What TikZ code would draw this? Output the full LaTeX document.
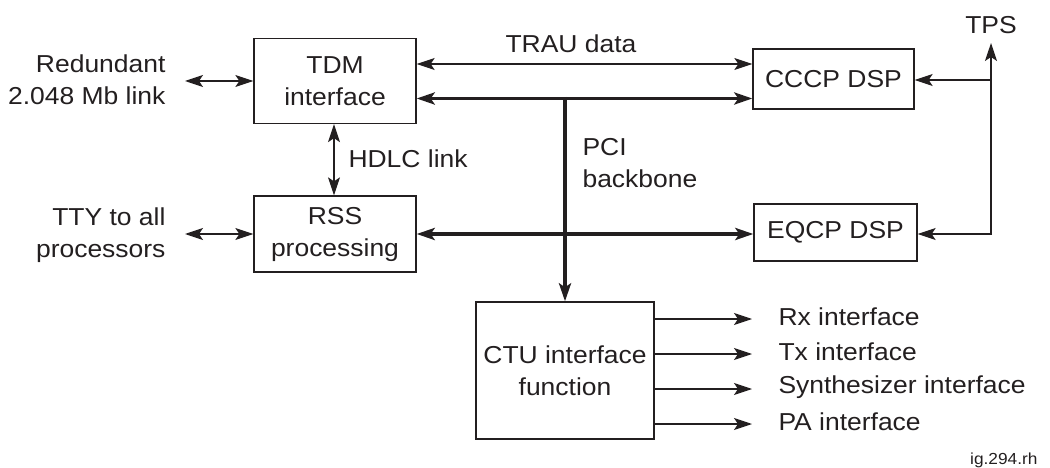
\documentclass[tikz,border=0pt]{standalone}
\usepackage{fontspec}
\setmainfont{Liberation Sans}[FakeStretch=1.08]
\usetikzlibrary{arrows.meta}
\definecolor{ink}{RGB}{35,31,32}
\begin{document}
\begin{tikzpicture}[x=1pt,y=-1pt,
  every node/.style={font=\fontsize{24.5}{32}\selectfont, text=ink},
  box/.style={draw=ink, line width=1.3pt, align=center, inner sep=0pt},
  conn/.style={draw=ink, line width=1.2pt},
  bus/.style={draw=ink, line width=3.6pt},
  >={Stealth[length=18pt,width=12pt,inset=4pt]}
]
\useasboundingbox (0,0) rectangle (1050,468);

% boxes
\node[box, minimum width=162pt, minimum height=85pt] (tdm) at (335,81) {TDM\\interface};
\node[box, minimum width=161pt, minimum height=60pt] (cccp) at (833.5,79) {CCCP DSP};
\node[box, minimum width=162pt, minimum height=76pt] (rss) at (335,234) {RSS\\processing};
\node[box, minimum width=163pt, minimum height=57pt] (eqcp) at (835.5,232.5) {EQCP DSP};
\node[box, minimum width=178pt, minimum height=137pt] (ctu) at (565,370.5) {CTU interface\\function};

% free labels
\node[align=right, anchor=east] (red) at (169,80) {Redundant\\2.048 Mb link};
\node[align=right, anchor=east] (tty) at (169,235) {TTY to all\\processors};
\node (trau) at (571,44) {TRAU data};
\node[anchor=west] (hdlc) at (345,159) {HDLC link};
\node[align=left, anchor=west] (pci) at (579,163) {PCI\\backbone};
\node (tps) at (991,25) {TPS};
\node[anchor=east, font=\fontsize{16}{19}\selectfont] (fig) at (1041,460) {ig.294.rh};

% coordinates
\coordinate (redEnd) at (185,81);
\coordinate (ttyEnd) at (185,234);
\coordinate (rTrau) at (0,64);
\coordinate (rBus1) at (0,98.5);
\coordinate (rBus2) at (0,234);
\coordinate (tpsTip) at (991,43);
\coordinate (tpsBot) at (991,234);
\coordinate (tpsMid) at (991,80);
\coordinate (busTop) at (565,97);
\coordinate (hx) at (334,0);

% connectors
\draw[conn,<->] (redEnd) -- (redEnd -| tdm.west);
\draw[conn,<->] (ttyEnd) -- (ttyEnd -| rss.west);
\draw[conn,<->] (tdm.east |- rTrau) -- (cccp.west |- rTrau);
\draw[bus,<->] (tdm.east |- rBus1) -- (cccp.west |- rBus1);
\draw[bus,<->] (rss.east |- rBus2) -- (eqcp.west |- rBus2);
\draw[bus,->] (busTop) -- (ctu.north);
\draw[conn,<->] (tdm.south -| hx) -- (rss.north -| hx);
\draw[conn,<->] (eqcp.east |- tpsBot) -- (tpsBot) -- (tpsTip);
\draw[conn,->] (tpsMid) -- (cccp.east |- tpsMid);

\foreach \yy/\txt [count=\i] in {319/Rx interface, 354/Tx interface, 389/Synthesizer interface, 424/PA interface} {
  \coordinate (o\i) at (752,\yy);
  \draw[conn,->] (ctu.east |- o\i) -- (o\i);
  \node[anchor=west] (lab\i) at (775,\yy-2) {\txt};
}
\end{tikzpicture}
\end{document}
